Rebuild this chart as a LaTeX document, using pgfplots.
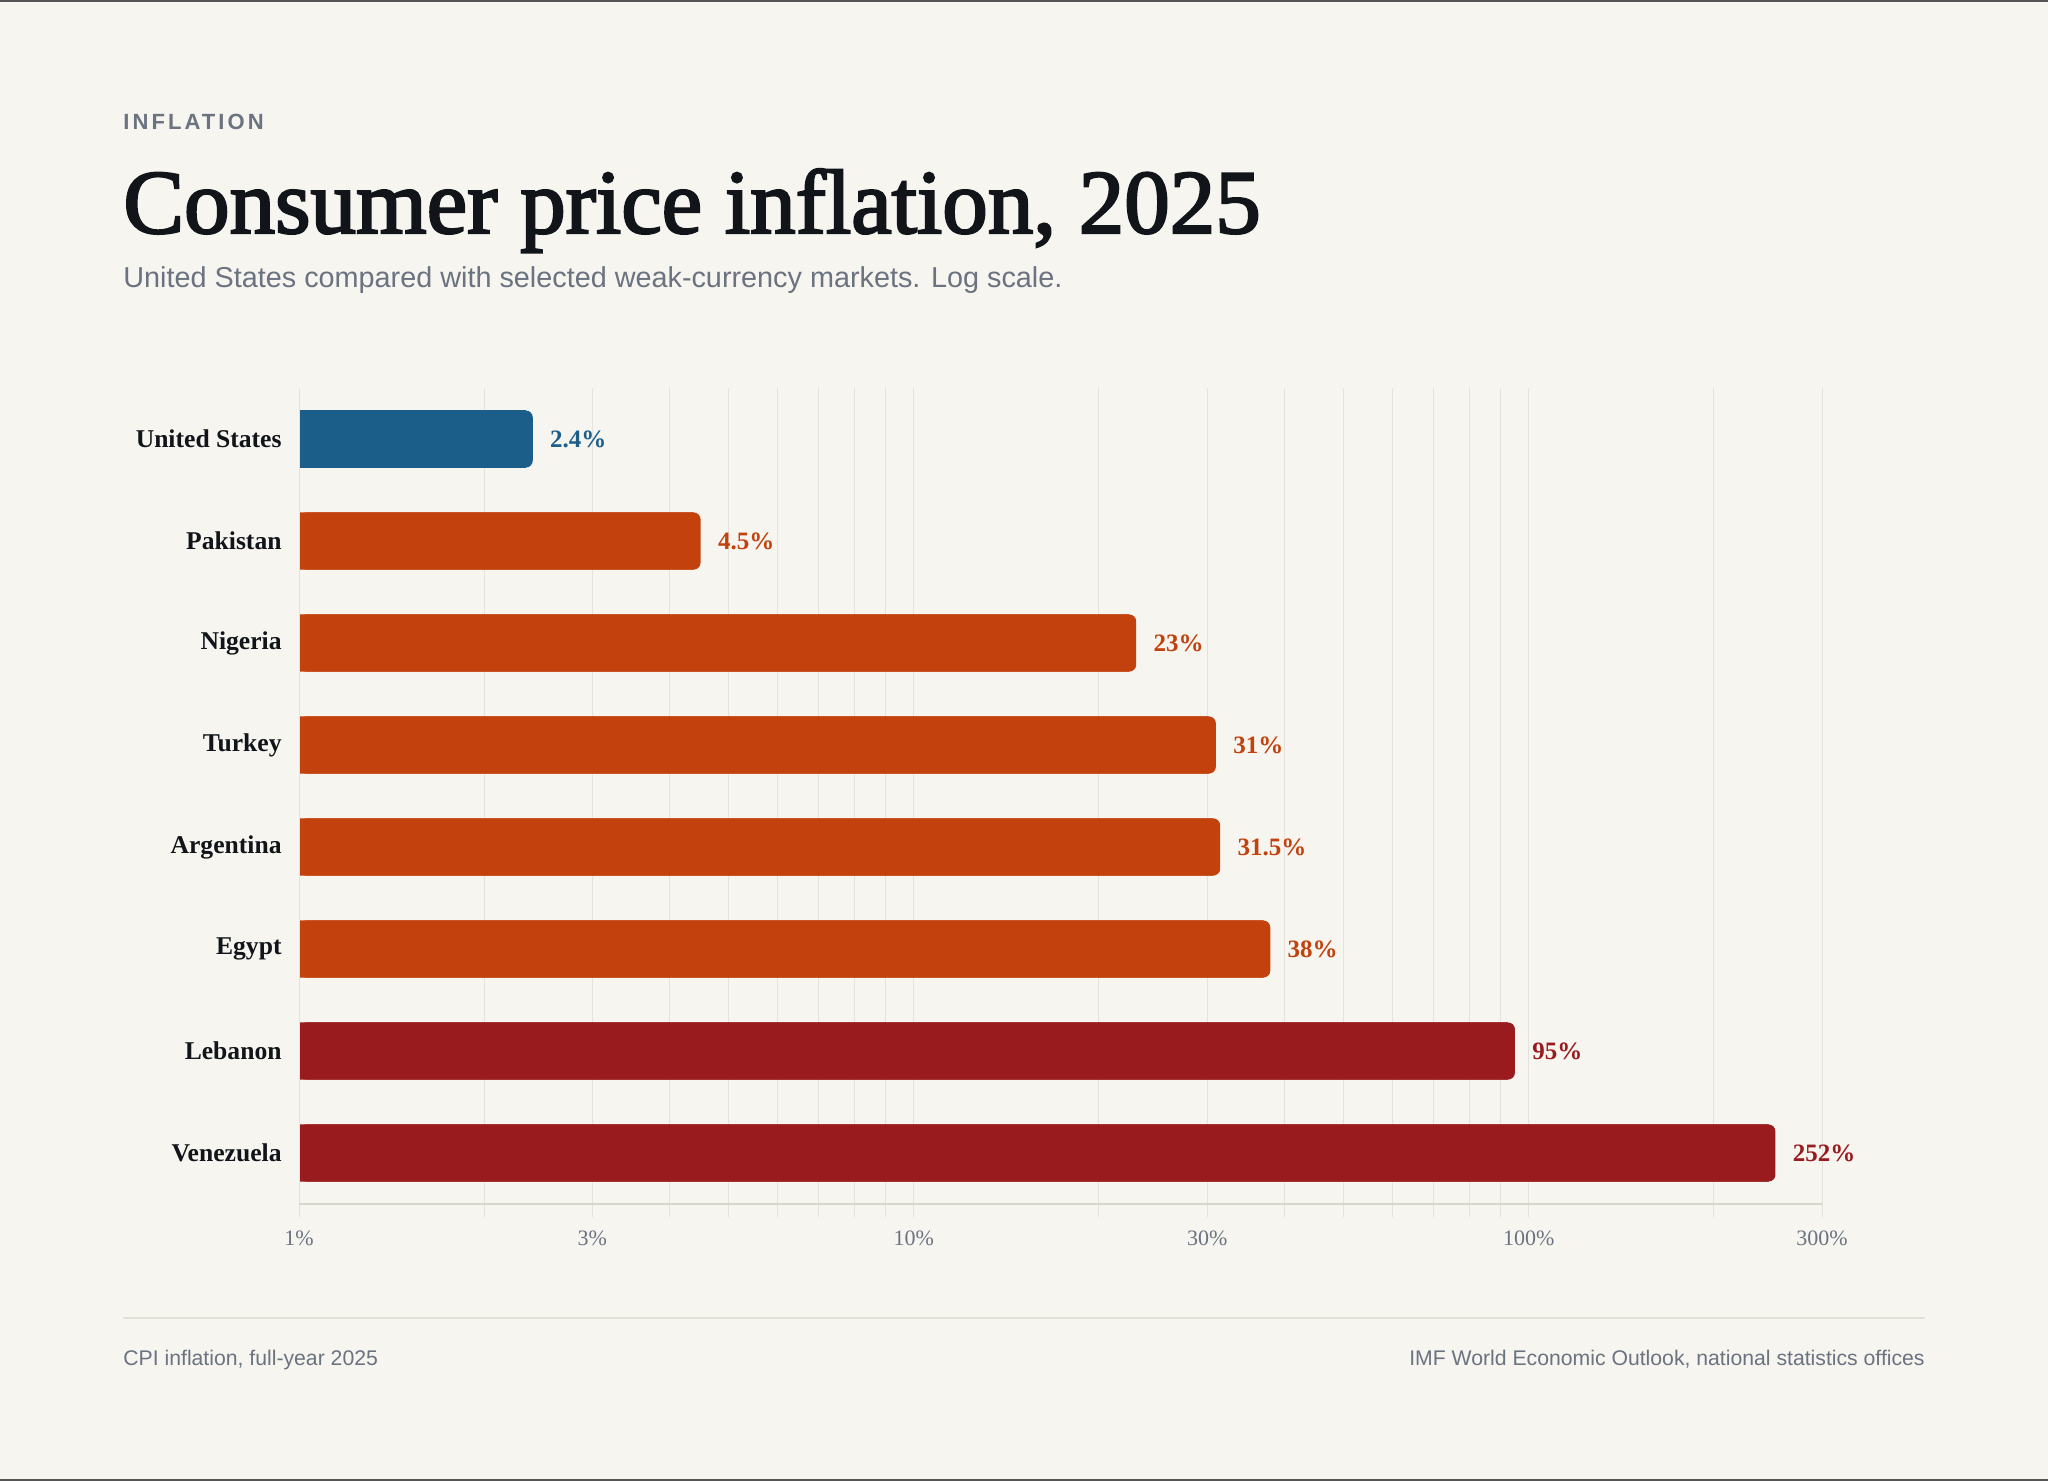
\documentclass[border=0pt]{standalone}
\usepackage{pgfplots}
\pgfplotsset{compat=1.18}
\usepackage{pgfplotstable}
\usepackage{fontspec}
\setmainfont{Liberation Serif}
\newfontfamily\titlefont[FakeBold=2.5]{Liberation Serif}
\newfontfamily\sansfont{Liberation Sans}
\newfontfamily\kickerfont[LetterSpace=14]{Liberation Sans}

\definecolor{paper}{HTML}{F6F5F0}
\definecolor{ink}{HTML}{111418}
\definecolor{muted}{HTML}{6B7280}
\definecolor{gridc}{HTML}{E4E2DB}
\definecolor{axisc}{HTML}{D9D6CE}
\definecolor{usblue}{HTML}{1C5E8A}
\definecolor{emorange}{HTML}{C2410C}
\definecolor{hyperred}{HTML}{991B1E}
\definecolor{rulec}{HTML}{E3E0D8}
\definecolor{framec}{HTML}{555555}

% CPI inflation, full-year 2025 (percent); y is the row position
\pgfplotstableread{
y v
0 2.4
}\tabUS
\pgfplotstableread{
y v
1 4.5
2 23
3 31
4 31.5
5 38
}\tabEM
\pgfplotstableread{
y v
6 95
7 252
}\tabHI

\begin{document}
\begin{tikzpicture}
% page
\fill[paper] (0,0) rectangle (1024pt,-740.5pt);
\fill[framec] (0,0) rectangle (1024pt,-1pt);
\fill[framec] (0,-739.5pt) rectangle (1024pt,-740.5pt);

% header
\node[anchor=base west, inner sep=0pt, text=muted,
      font=\kickerfont\bfseries\fontsize{11}{13}\selectfont] at (61.5pt,-65pt) {INFLATION};
\node[anchor=base west, inner sep=0pt, text=ink,
      font=\titlefont\fontsize{45.5}{50}\selectfont] at (61.5pt,-116.5pt) {Consumer price inflation, 2025};
\node[anchor=base west, inner sep=0pt, text=muted,
      font=\sansfont\fontsize{14.4}{16}\selectfont] at (61.5pt,-144pt)
      {United States compared with selected weak-currency markets. Log scale.};

% footer
\draw[rulec, line width=0.8pt] (61.5pt,-659pt) -- (962.5pt,-659pt);
\node[anchor=base west, inner sep=0pt, text=muted,
      font=\sansfont\fontsize{10.6}{12}\selectfont] at (61.5pt,-682.5pt) {CPI inflation, full-year 2025};
\node[anchor=base east, inner sep=0pt, text=muted,
      font=\sansfont\fontsize{10.6}{12}\selectfont] at (962.5pt,-682.5pt) {IMF World Economic Outlook, national statistics offices};

\begin{axis}[
  at={(149.5pt,-602pt)}, anchor=south west,
  scale only axis, width=761.5pt, height=408pt,
  xmode=log, xmin=1, xmax=300,
  ymin=-0.5, ymax=7.5, y dir=reverse,
  clip=false,
  axis line style={draw=none},
  xtick={1,3,10,30,100,300},
  xticklabels={1\%,3\%,10\%,30\%,100\%,300\%},
  minor xtick={2,4,5,6,7,8,9,20,40,50,60,70,80,90,200},
  xmajorgrids, xminorgrids,
  grid style={draw=gridc, line width=0.5pt},
  major grid style={draw=gridc, line width=0.5pt},
  minor grid style={draw=gridc, line width=0.5pt},
  xtick pos=bottom, tick align=outside,
  major tick length=6.5pt, minor tick length=6.5pt,
  xtick style={draw=gridc, line width=0.5pt},
  minor x tick style={draw=gridc, line width=0.5pt},
  xticklabel style={font=\fontsize{11}{13}\selectfont, text=muted, yshift=-3.3pt},
  ytick={0,1,2,3,4,5,6,7},
  yticklabels={United States,Pakistan,Nigeria,Turkey,Argentina,Egypt,Lebanon,Venezuela},
  ytick style={draw=none},
  yticklabel style={font=\bfseries\fontsize{12.8}{15}\selectfont, text=ink, xshift=1.3pt},
  xbar, bar width=0.56, bar shift=0pt,
  point meta=explicit symbolic,
  every node near coord/.append style={anchor=west, inner sep=0pt, xshift=8.5pt,
      font=\bfseries\fontsize{12.5}{15}\selectfont},
]
% square-ended base of each bar, so only the outer end is rounded
\addplot[fill=usblue, draw=none] table[x expr=\thisrow{v}*0.975, y=y] {\tabUS};
\addplot[fill=emorange, draw=none] table[x expr=\thisrow{v}*0.975, y=y] {\tabEM};
\addplot[fill=hyperred, draw=none] table[x expr=\thisrow{v}*0.975, y=y] {\tabHI};
% bars with rounded outer end and value labels
\addplot[fill=usblue, draw=none, rounded corners=3.5pt,
  nodes near coords={\pgfplotspointmeta\%},
  every node near coord/.append style={text=usblue}]
  table[x=v, y=y, meta=v] {\tabUS};
\addplot[fill=emorange, draw=none, rounded corners=3.5pt,
  nodes near coords={\pgfplotspointmeta\%},
  every node near coord/.append style={text=emorange}]
  table[x=v, y=y, meta=v] {\tabEM};
\addplot[fill=hyperred, draw=none, rounded corners=3.5pt,
  nodes near coords={\pgfplotspointmeta\%},
  every node near coord/.append style={text=hyperred}]
  table[x=v, y=y, meta=v] {\tabHI};
% baseline and left edge
\draw[gridc, line width=0.5pt] (axis cs:1,-0.5) -- (axis cs:1,7.5);
\draw[axisc, line width=1pt] (axis cs:1,7.5) -- (axis cs:300,7.5);
\end{axis}
\end{tikzpicture}
\end{document}
